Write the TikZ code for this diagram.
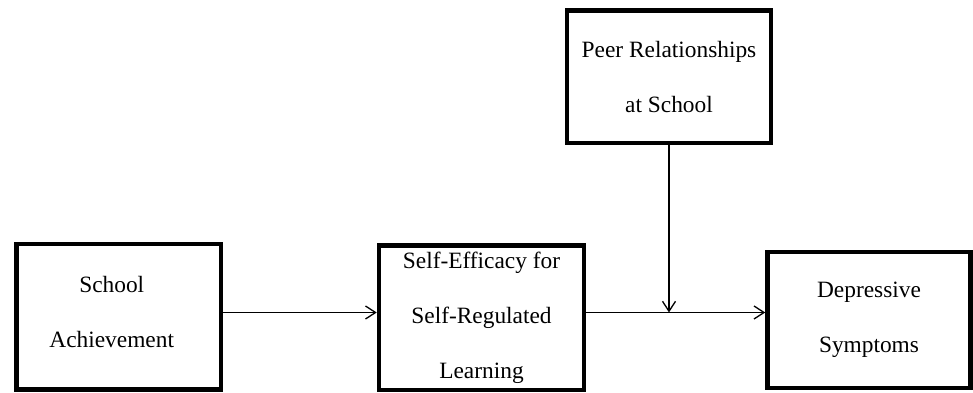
\documentclass[tikz,border=0pt]{standalone}
\usepackage{fontspec}
\setmainfont{Liberation Serif}
\usepackage{xcolor}
\usetikzlibrary{arrows.meta,positioning,calc}
\definecolor{ink}{HTML}{000000}

\begin{document}
\begin{tikzpicture}[
  font=\fontsize{13.3}{31.3}\selectfont,
  >={Straight Barb[length=2mm,width=2.6mm]},
  box/.style 2 args={
    draw=ink,
    line width=2.6pt,
    align=center,
    inner sep=0pt,
    minimum width=#1,
    minimum height=#2
  },
  flow/.style={->, line width=0.75pt, draw=ink}
]

% canvas
\useasboundingbox (0,0) rectangle (19.46,7.86);

% Boxes
\node[box={4.09cm}{2.91cm}, text depth=6pt] (achieve) at (2.375,1.525) {School\kern8pt\\Achievement\kern8pt};
\node[box={4.10cm}{2.89cm}] (efficacy) at (9.63,1.505) {Self-Efficacy for\\Self-Regulated\\Learning};
\node[box={4.08cm}{2.654cm}] (peer) at (13.38,6.326) {Peer Relationships\\at School};
\node[box={4.06cm}{2.72cm}] (depress) at (17.38,1.46) {Depressive\\Symptoms};

% Paths
\draw[flow] ([yshift=0.085cm]achieve.east) coordinate (a1) -- (a1 -| efficacy.west);
\draw[flow] ([yshift=0.105cm]efficacy.east) coordinate (b1) -- (b1 -| depress.west);

% Moderator
\coordinate (meet) at (peer.south |- b1);
\draw[flow] (peer.south) -- (meet);

\end{tikzpicture}
\end{document}
